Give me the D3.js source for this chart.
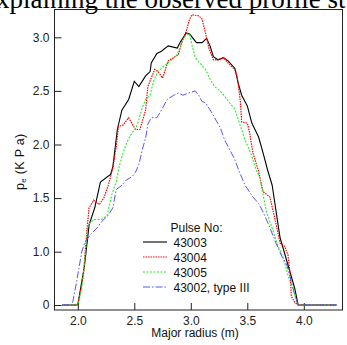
<!DOCTYPE html>
<html lang="en">
<head>
<meta charset="utf-8">
<title>Pressure profiles</title>
<script src="https://cdn.jsdelivr.net/npm/d3@7"></script>
<style>
  body { margin: 0; background: #fff; }
  text { font-family: "Liberation Sans", Arial, sans-serif; }
</style>
</head>
<body>
<script>
// pulse profiles: [major radius (m), p_e (kPa)]
var pulse43003 = [[1.86,0],[2.00,0],[2.06,0.75],[2.10,1.25],[2.15,1.41],[2.20,1.65],[2.29,1.72],[2.31,1.79],[2.35,2.14],[2.39,2.32],[2.45,2.42],[2.50,2.59],[2.54,2.54],[2.60,2.64],[2.64,2.68],[2.65,2.76],[2.70,2.85],[2.74,2.87],[2.80,2.92],[2.88,2.90],[2.91,2.96],[2.96,3.04],[2.99,3.03],[3.05,2.95],[3.10,2.95],[3.14,2.99],[3.17,2.92],[3.20,2.82],[3.24,2.79],[3.29,2.81],[3.33,2.78],[3.39,2.71],[3.42,2.57],[3.45,2.46],[3.50,2.36],[3.54,2.20],[3.60,2.07],[3.64,1.92],[3.68,1.76],[3.72,1.62],[3.75,1.41],[3.79,1.13],[3.86,0.75],[3.92,0.31],[3.95,0],[4.29,0]];
var pulse43004 = [[1.86,0],[2.00,0],[2.05,0.56],[2.08,1.19],[2.10,1.41],[2.14,1.48],[2.19,1.44],[2.23,1.50],[2.27,1.62],[2.31,1.78],[2.34,1.98],[2.36,2.17],[2.40,2.18],[2.45,2.25],[2.51,2.14],[2.55,2.14],[2.60,2.32],[2.62,2.54],[2.68,2.70],[2.71,2.68],[2.75,2.62],[2.80,2.78],[2.85,2.81],[2.89,2.84],[2.92,2.95],[2.96,3.06],[2.99,3.17],[3.01,3.21],[3.07,3.20],[3.10,3.17],[3.13,3.04],[3.16,2.90],[3.20,2.79],[3.24,2.79],[3.29,2.81],[3.33,2.76],[3.39,2.70],[3.41,2.64],[3.44,2.39],[3.45,2.21],[3.50,2.20],[3.52,2.11],[3.55,1.92],[3.60,1.75],[3.64,1.56],[3.70,1.51],[3.75,1.28],[3.79,1.08],[3.83,1.05],[3.86,0.94],[3.88,0.56],[3.89,0.16],[3.92,0.05],[3.95,0],[4.29,0]];
var pulse43005 = [[1.86,0],[2.00,0],[2.035,0.31],[2.06,0.81],[2.09,1.25],[2.14,1.30],[2.21,1.30],[2.26,1.34],[2.30,1.53],[2.34,1.65],[2.37,1.81],[2.40,1.92],[2.43,2.01],[2.48,2.11],[2.51,2.14],[2.54,2.23],[2.57,2.34],[2.60,2.42],[2.64,2.46],[2.67,2.59],[2.71,2.68],[2.76,2.73],[2.82,2.78],[2.88,2.84],[2.92,2.95],[2.96,3.03],[2.99,3.03],[3.01,2.93],[3.04,2.81],[3.08,2.76],[3.13,2.70],[3.17,2.61],[3.21,2.54],[3.26,2.50],[3.30,2.45],[3.35,2.38],[3.39,2.33],[3.42,2.23],[3.45,2.14],[3.48,2.04],[3.51,1.97],[3.54,1.89],[3.58,1.76],[3.61,1.69],[3.64,1.53],[3.67,1.37],[3.72,1.22],[3.77,1.06],[3.82,0.87],[3.86,0.56],[3.91,0.25],[3.94,0.03],[3.95,0],[4.29,0]];
var pulse43002 = [[1.86,0],[1.95,0],[1.99,0.44],[2.035,1.0],[2.06,1.08],[2.11,1.16],[2.17,1.22],[2.21,1.28],[2.27,1.34],[2.31,1.41],[2.34,1.58],[2.39,1.62],[2.43,1.67],[2.48,1.70],[2.51,1.74],[2.54,1.81],[2.57,1.95],[2.60,2.06],[2.62,2.19],[2.65,2.25],[2.70,2.25],[2.74,2.32],[2.79,2.42],[2.85,2.46],[2.89,2.48],[2.93,2.46],[2.98,2.48],[3.04,2.50],[3.07,2.46],[3.10,2.40],[3.13,2.39],[3.16,2.34],[3.19,2.29],[3.21,2.25],[3.26,2.16],[3.30,2.04],[3.33,1.98],[3.39,1.86],[3.42,1.77],[3.48,1.62],[3.55,1.51],[3.60,1.45],[3.64,1.37],[3.69,1.25],[3.75,1.09],[3.80,0.94],[3.85,0.75],[3.89,0.44],[3.92,0.19],[3.94,0.06],[3.95,0],[4.29,0]];

var seriesNames = ["43003", "43004", "43005", "43002, type III"];
var xTicks = [2.0, 2.5, 3.0, 3.5, 4.0];
var yTicks = [0, 1.0, 1.5, 2.0, 2.5, 3.0];

var width = 347, height = 345;
var frame = {left: 54.5, right: 342.5, top: 9.5, bottom: 310};

var svg = d3.select("body").append("svg")
    .attr("width", width)
    .attr("height", height);

svg.append("rect").attr("width", width).attr("height", height).attr("fill", "#fff");

// cut-off line of the paper's text above the figure
svg.append("text")
    .attr("x", -4)
    .attr("y", 7.5)
    .attr("font-size", 27)
    .attr("fill", "#000")
    .style("font-family", "'Liberation Serif', 'Times New Roman', serif")
    .text("xplaining the observed profile st");

var xScale = d3.scaleLinear()
    .domain([2.0, 4.0])
    .range([77.8, 303.8]);

// the vertical axis is compressed below 1.0
var yScale = d3.scaleLinear()
    .domain([0, 1, 3])
    .range([305, 251.7, 37.3]);

var xAxis = d3.axisBottom(xScale)
    .tickValues(xTicks)
    .tickSizeInner(-7)
    .tickSizeOuter(0)
    .tickPadding(6)
    .tickFormat(d3.format(".1f"));

var yAxis = d3.axisLeft(yScale)
    .tickValues(yTicks)
    .tickSizeInner(-7)
    .tickSizeOuter(0)
    .tickPadding(5)
    .tickFormat(function(d) { return d === 0 ? "0" : d3.format(".1f")(d); });

var gx = svg.append("g")
    .attr("transform", "translate(0," + frame.bottom + ")")
    .call(xAxis);
gx.select(".domain").remove();

var gy = svg.append("g")
    .attr("transform", "translate(" + frame.left + ",0)")
    .call(yAxis);
gy.select(".domain").remove();

svg.selectAll(".tick text")
    .attr("font-size", 12)
    .attr("font-family", "'Liberation Sans', Arial, sans-serif")
    .attr("fill", "#222");
svg.selectAll(".tick line").attr("stroke", "#222");

svg.append("rect")
    .attr("x", frame.left)
    .attr("y", frame.top)
    .attr("width", frame.right - frame.left)
    .attr("height", frame.bottom - frame.top)
    .attr("fill", "none")
    .attr("stroke", "#222")
    .attr("stroke-width", 1);

var line = d3.line()
    .x(function(d) { return xScale(d[0]); })
    .y(function(d) { return yScale(d[1]); });

var styles = [
    {data: pulse43003, color: "#000000", dash: null, w: 1.1},
    {data: pulse43004, color: "#ff0000", dash: "1.5,1", w: 1.2},
    {data: pulse43005, color: "#22ee22", dash: "2,1.5", w: 1.1},
    {data: pulse43002, color: "#5555ff", dash: "7,2,1.5,2", w: 1.0}
];

styles.forEach(function(s) {
    svg.append("path")
        .datum(s.data)
        .attr("d", line)
        .attr("fill", "none")
        .attr("stroke", s.color)
        .attr("stroke-width", s.w)
        .attr("stroke-dasharray", s.dash);
});

// legend
var legend = svg.append("g")
    .attr("font-size", 12)
    .attr("fill", "#111");

legend.append("text")
    .attr("x", 170.5)
    .attr("y", 231.5)
    .text("Pulse No:");

var entry = legend.selectAll("g.entry")
    .data(styles)
    .enter().append("g")
    .attr("class", "entry")
    .attr("transform", function(d, i) { return "translate(0," + (246.5 + i * 15) + ")"; });

entry.append("line")
    .attr("x1", 143)
    .attr("x2", 167)
    .attr("y1", -4.5)
    .attr("y2", -4.5)
    .attr("stroke", function(d) { return d.color; })
    .attr("stroke-width", function(d) { return d.w; })
    .attr("stroke-dasharray", function(d) { return d.dash; });

entry.append("text")
    .attr("x", 173.5)
    .attr("y", 0)
    .text(function(d, i) { return seriesNames[i]; });

// axis titles
svg.append("text")
    .attr("x", 195)
    .attr("y", 337)
    .attr("text-anchor", "middle")
    .attr("font-size", 12)
    .attr("fill", "#111")
    .text("Major radius (m)");

var ylab = svg.append("text")
    .attr("transform", "translate(24,190) rotate(-90)")
    .attr("font-size", 12.5)
    .attr("letter-spacing", 0.3)
    .attr("fill", "#111");
ylab.append("tspan").text("p");
ylab.append("tspan").attr("font-size", 8).attr("dy", 2).text("e");
ylab.append("tspan").attr("dy", -2).text(" (K P a)");
</script>
</body>
</html>
